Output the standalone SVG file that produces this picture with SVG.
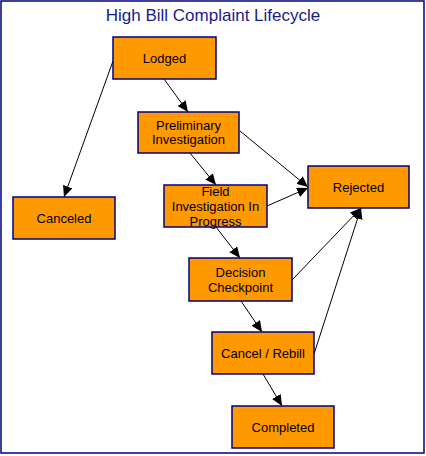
<svg xmlns="http://www.w3.org/2000/svg" width="426" height="456" viewBox="0 0 426 456">
<style>
.node rect{fill:#FF9900;stroke:#000080;stroke-width:1.5}
.node text{font-family:"Liberation Sans",Arial,sans-serif;font-size:13px;fill:#000;text-anchor:middle}
.conn line{stroke:#000;stroke-width:1;marker-end:url(#arr)}
</style>
<defs>
<marker id="arr" markerUnits="userSpaceOnUse" markerWidth="12" markerHeight="10" refX="11" refY="5" orient="auto">
<path d="M0,0 L11,5 L0,10 z" fill="#000"/>
</marker>
</defs>
<rect x="1" y="1" width="423" height="452" fill="#fff" stroke="#000080" stroke-width="1.5"/>
<text x="213" y="21" font-family="'Liberation Sans',Arial,sans-serif" font-size="17" fill="#1a1a8c" text-anchor="middle">High Bill Complaint Lifecycle</text>
<g id="connectors" class="conn">
<line x1="164" y1="79" x2="188" y2="112"/>
<line x1="113" y1="61" x2="64" y2="197"/>
<line x1="190" y1="153" x2="216" y2="185"/>
<line x1="240" y1="131" x2="308" y2="187"/>
<line x1="267" y1="206" x2="308" y2="188"/>
<line x1="216" y1="227" x2="240" y2="258"/>
<line x1="292" y1="280" x2="361" y2="208"/>
<line x1="314" y1="354" x2="361" y2="208"/>
<line x1="241" y1="301" x2="262" y2="332"/>
<line x1="263" y1="374" x2="282" y2="406"/>
</g>
<g id="lodged" class="node"><rect x="113" y="37" width="103" height="42"/><text x="164.5" y="63">Lodged</text></g>
<g id="preliminary" class="node"><rect x="138" y="112" width="101" height="41"/><text x="188.5" y="130">Preliminary</text><text x="188.5" y="144">Investigation</text></g>
<g id="field" class="node"><rect x="164" y="185" width="103" height="42"/><text x="215.5" y="196">Field</text><text x="215.5" y="211">Investigation In</text><text x="215.5" y="226">Progress</text></g>
<g id="rejected" class="node"><rect x="308" y="166" width="101" height="42"/><text x="358.5" y="192">Rejected</text></g>
<g id="canceled" class="node"><rect x="13" y="197" width="102" height="42"/><text x="64" y="223">Canceled</text></g>
<g id="decision" class="node"><rect x="189" y="258" width="103" height="43"/><text x="240.5" y="277">Decision</text><text x="240.5" y="292">Checkpoint</text></g>
<g id="cancelrebill" class="node"><rect x="212" y="332" width="102" height="42"/><text x="263" y="358">Cancel / Rebill</text></g>
<g id="completed" class="node"><rect x="232" y="406" width="102" height="42"/><text x="283" y="432">Completed</text></g>
</svg>
